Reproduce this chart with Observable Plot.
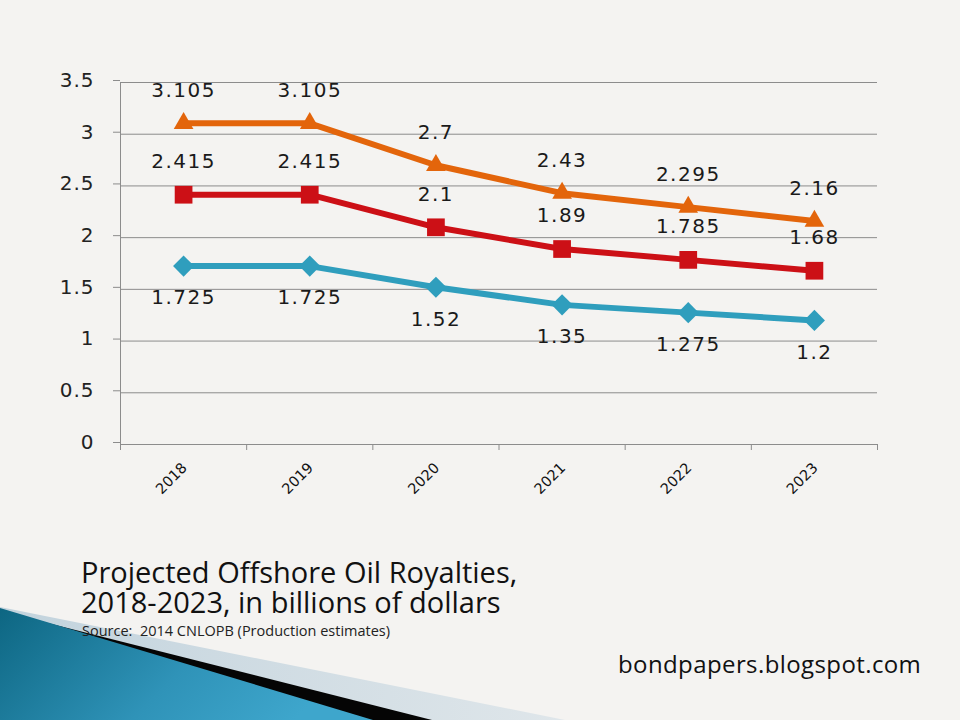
<!DOCTYPE html>
<html>
<head>
<meta charset="utf-8">
<script src="https://cdn.jsdelivr.net/npm/d3@7"></script>
<script src="https://cdn.jsdelivr.net/npm/@observablehq/plot@0.6"></script>
<style>
  html, body { margin: 0; padding: 0; }
  body { width: 960px; height: 720px; background: #f4f3f1; position: relative; overflow: hidden; font-family: "DejaVu Sans", sans-serif; }
  #deco { position: absolute; left: 0; top: 0; z-index: 0; }
  #chart { position: absolute; left: 0; top: 0; z-index: 1; }
  .title { position: absolute; left: 81px; font-family: "Open Sans", sans-serif; font-size: 29px; line-height: 29px; color: #111; z-index: 2; white-space: nowrap; }
  .t1 { top: 557px; }
  .t2 { top: 587px; }
  .source { position: absolute; left: 82px; top: 623px; font-family: "Open Sans", sans-serif; font-size: 14.5px; line-height: 16px; color: #222; z-index: 2; white-space: nowrap; }
  .credit { position: absolute; left: 618px; top: 650px; font-family: "Open Sans", sans-serif; font-size: 24px; line-height: 28px; color: #111; z-index: 2; white-space: nowrap; letter-spacing: 0.4px; }
</style>
</head>
<body>
<svg id="deco" width="960" height="720">
  <defs>
    <linearGradient id="tealg" x1="0" y1="0" x2="1" y2="0.3">
      <stop offset="0" stop-color="#0d6682"/>
      <stop offset="0.6" stop-color="#2f93b8"/>
      <stop offset="1" stop-color="#3ea6cc"/>
    </linearGradient>
    <linearGradient id="paleg" x1="0" y1="0" x2="1" y2="0">
      <stop offset="0" stop-color="#c2d3dd"/>
      <stop offset="1" stop-color="#dfe6ea"/>
    </linearGradient>
  </defs>
  <polygon points="0,607 565,720 0,720" fill="url(#paleg)"/>
  <polygon points="0,611 432,720 0,720" fill="#050505"/>
  <polygon points="0,608 373,720 0,720" fill="url(#tealg)"/>
</svg>
<div id="chart"></div>
<div class="title t1">Projected Offshore Oil Royalties,</div>
<div class="title t2">2018-2023, in billions of dollars</div>
<div class="source">Source:&nbsp; 2014 CNLOPB (Production estimates)</div>
<div class="credit">bondpapers.blogspot.com</div>
<script>
const years = [2018, 2019, 2020, 2021, 2022, 2023];
const highValues = [3.105, 3.105, 2.7, 2.43, 2.295, 2.16];
const midValues = [2.415, 2.415, 2.1, 1.89, 1.785, 1.68];
const lowValues = [1.725, 1.725, 1.52, 1.35, 1.275, 1.2];
const yTicks = [0, 0.5, 1, 1.5, 2, 2.5, 3, 3.5];

const series = [
  {name: "high", values: highValues, color: "#e3650b", symbol: "triangle", r: 7.3, dy: -33},
  {name: "mid", values: midValues, color: "#cc1016", symbol: "square", r: 10, dy: -33},
  {name: "low", values: lowValues, color: "#2f9ebd", symbol: "diamond2", r: 9.5, dy: 32}
];

const bounds = years.map(y => y - 0.5).concat([years[years.length - 1] + 0.5]);

const marks = [
  Plot.ruleY(yTicks, {stroke: "#8c8c8c", strokeWidth: 1}),
  Plot.ruleX([bounds[0]], {y1: yTicks[0], y2: yTicks[yTicks.length - 1], stroke: "#8c8c8c"}),
  Plot.axisY(yTicks, {tickSize: 7, tickPadding: 19, fontSize: 20, stroke: "#8c8c8c", fill: "#222", tickFormat: d => String(d), dy: -2}),
  Plot.axisX(bounds, {tickSize: 6, stroke: "#8c8c8c", tickFormat: () => ""}),
  Plot.axisX(years, {tickSize: 0, tickRotate: -45, tickPadding: 21, dx: 1, fontSize: 14.5, fill: "#111", tickFormat: d => String(d)})
];

for (const s of series) {
  const rows = years.map((yr, i) => ({year: yr, value: s.values[i]}));
  marks.push(Plot.line(rows, {x: "year", y: "value", stroke: s.color, strokeWidth: 6, strokeLinejoin: "round"}));
  marks.push(Plot.dot(rows, {x: "year", y: "value", symbol: () => s.symbol, fill: s.color, stroke: "none", r: s.r}));
  marks.push(Plot.text(rows, {x: "year", y: "value", text: d => String(d.value), dy: s.dy, fontSize: 20, fill: "#1a1a1a"}));
}

const svg = Plot.plot({
  width: 960,
  height: 540,
  marginLeft: 120,
  marginRight: 83,
  marginTop: 82,
  marginBottom: 96,
  style: {background: "transparent", fontFamily: "DejaVu Sans, sans-serif"},
  x: {type: "linear", domain: [bounds[0], bounds[bounds.length - 1]], label: null},
  y: {domain: [yTicks[0], yTicks[yTicks.length - 1]], label: null},
  symbol: {type: "identity"},
  marks
});
document.getElementById("chart").appendChild(svg);
d3.select(svg).selectAll('g[aria-label="text"] text').attr("letter-spacing", "1.5px");
d3.select(svg).selectAll('g[aria-label="y-axis tick label"] text').attr("letter-spacing", "1px");
</script>
</body>
</html>
